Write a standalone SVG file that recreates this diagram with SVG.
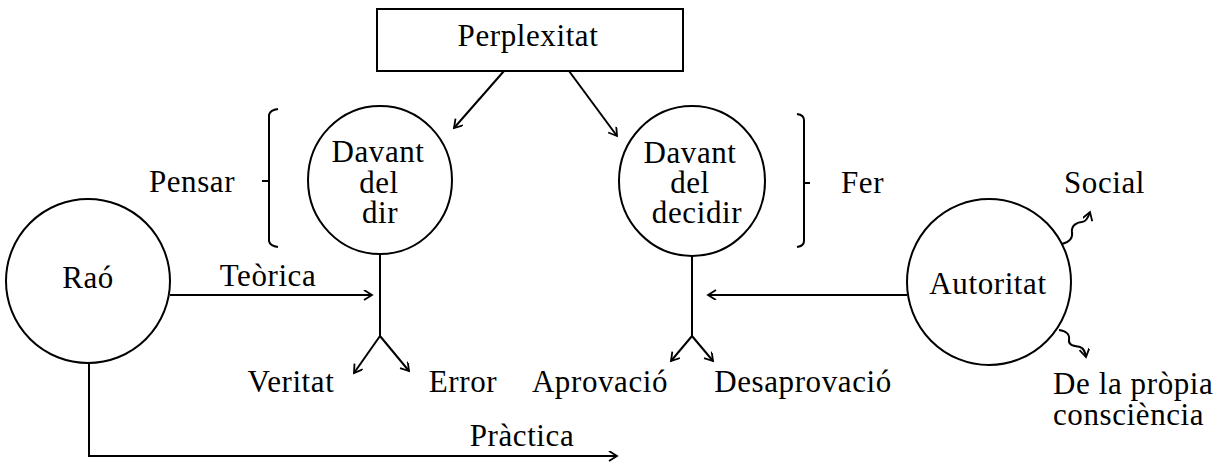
<svg xmlns="http://www.w3.org/2000/svg" width="1228" height="466" viewBox="0 0 1228 466">
<defs>
<marker id="ah" markerWidth="12" markerHeight="12" refX="9" refY="5" orient="auto" markerUnits="userSpaceOnUse">
<path d="M1,0 L9,5 L1,10" fill="none" stroke="#000" stroke-width="1.8"/>
</marker>
<style>
text{font-family:"Liberation Serif","Times New Roman",serif;font-size:31px;fill:#000;letter-spacing:0.6px}
.m{text-anchor:middle}
.s{fill:none;stroke:#000;stroke-width:2}
.a{marker-end:url(#ah)}
</style>
</defs>
<rect width="1228" height="466" fill="#fff"/>
<g id="perplexitat">
<rect class="s" x="377" y="9" width="306" height="62"/>
<text class="m" x="528" y="46">Perplexitat</text>
</g>
<g id="pensar">
<path class="s" d="M278,109 Q270,110 269,115 L269,241 Q270,246 278,247 M262,181 L269,181"/>
<text class="m" x="192" y="192">Pensar</text>
</g>
<g id="davant-dir">
<ellipse class="s" cx="380" cy="180" rx="72" ry="74"/>
<text class="m" x="378" y="162">Davant</text>
<text class="m" x="379" y="193">del</text>
<text class="m" x="380" y="223">dir</text>
</g>
<g id="davant-decidir">
<ellipse class="s" cx="692" cy="181" rx="73" ry="75"/>
<text class="m" x="690" y="163">Davant</text>
<text class="m" x="690" y="193">del</text>
<text class="m" x="697" y="223">decidir</text>
</g>
<g id="fer">
<path class="s" d="M797,114 Q804,115 804,120 L804,241 Q804,246 797,247 M804,183 L810,183"/>
<text x="841" y="193">Fer</text>
</g>
<g id="rao">
<ellipse class="s" cx="88" cy="281" rx="82" ry="82"/>
<text class="m" x="88" y="288">Raó</text>
</g>
<g id="autoritat">
<ellipse class="s" cx="989" cy="282" rx="82" ry="83"/>
<text class="m" x="988" y="294">Autoritat</text>
</g>
<g id="labels">
<text class="m" x="268" y="286">Teòrica</text>
<text class="m" x="291" y="392">Veritat</text>
<text class="m" x="463" y="392">Error</text>
<text class="m" x="600" y="392">Aprovació</text>
<text class="m" x="803" y="392">Desaprovació</text>
<text class="m" x="522" y="446">Pràctica</text>
<text x="1064" y="193">Social</text>
<text x="1053" y="394">De la pròpia</text>
<text x="1053" y="425">consciència</text>
</g>
<g id="connectors">
<path class="s a" d="M504,71 L454,128"/>
<path class="s a" d="M569,71 L617,136"/>
<path class="s a" d="M170,295 L372,295"/>
<path class="s" d="M380,254 L380,336"/>
<path class="s a" d="M380,336 L354,373"/>
<path class="s a" d="M380,336 L409,371"/>
<path class="s a" d="M907,295 L708,295"/>
<path class="s" d="M692,256 L692,336"/>
<path class="s a" d="M692,336 L671,361"/>
<path class="s a" d="M692,336 L713,361"/>
<path class="s a" d="M89,363 L89,456 L617,456"/>
<path class="s a" d="M1062,244 C1070,242 1073,238 1072,232 C1071,225 1078,222 1082,222 C1086,222 1088,218 1090,212"/>
<path class="s a" d="M1059,330 C1066,331 1070,334 1069,340 C1068,346 1076,346 1080,347 C1084,348 1085,352 1086,357"/>
</g>
</svg>
